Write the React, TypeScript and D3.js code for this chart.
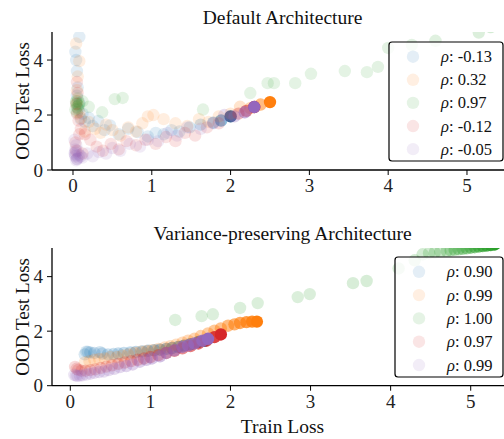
import React from "react";
import * as d3 from "d3";

// legend labels
const topRho = ["-0.13", "0.32", "0.97", "-0.12", "-0.05"];
const bottomRho = ["0.90", "0.99", "1.00", "0.97", "0.99"];
const xTicks = [0, 1, 2, 3, 4, 5];
const yTicks = [0, 2, 4];

// Default architecture, trajectories listed from first (opaque) to last point
const topBlueX = [2.0, 1.88, 1.78, 1.62, 1.48, 1.35, 1.25, 1.15, 1.05, 0.95, 0.82, 0.7, 0.58, 0.47, 0.4, 0.32, 0.25, 0.2, 0.15, 0.12, 0.1, 0.08, 0.07, 0.06, 0.05, 0.05, 0.04, 0.03, 0.08];
const topBlueY = [1.95, 1.8, 1.72, 1.65, 1.55, 1.4, 1.45, 1.3, 1.35, 1.22, 1.38, 1.5, 1.3, 1.62, 1.45, 1.78, 1.6, 1.9, 1.75, 2.05, 1.85, 2.45, 2.2, 3.0, 2.7, 3.6, 4.0, 4.3, 4.84];
const topOrangeX = [2.5, 2.38, 2.25, 2.12, 2.0, 1.85, 1.72, 1.6, 1.45, 1.3, 1.15, 1.02, 0.95, 0.88, 0.8, 0.7, 0.6, 0.5, 0.42, 0.35, 0.28, 0.2, 0.15, 0.1, 0.08, 0.06, 0.05, 0.06, 0.08, 0.04];
const topOrangeY = [2.47, 2.38, 2.25, 2.3, 2.05, 1.95, 1.75, 1.85, 1.6, 1.7, 1.85, 2.0, 1.95, 1.7, 1.4, 1.55, 1.25, 1.45, 1.65, 1.35, 1.5, 1.75, 1.4, 1.9, 2.1, 2.5, 2.9, 3.4, 3.96, 4.6];
const topGreenX = [5.9, 5.7, 5.5, 5.3, 5.15, 4.6, 4.3, 4.0, 3.87, 3.73, 3.45, 3.02, 2.82, 2.55, 2.47, 2.25, 1.65, 0.63, 0.53, 0.37, 0.2, 0.12, 0.08, 0.06, 0.05, 0.04, 0.03, 0.05, 0.07, 0.04, 0.06, 0.05];
const topGreenY = [6.0, 5.7, 5.45, 5.2, 5.0, 4.7, 4.55, 4.44, 3.75, 3.56, 3.6, 3.5, 3.16, 3.16, 3.16, 2.8, 2.2, 2.62, 2.58, 2.1, 2.3, 2.5, 2.4, 2.6, 2.3, 2.5, 2.2, 2.1, 2.35, 2.45, 2.25, 2.4];
const topRedX = [2.3, 2.2, 2.1, 2.0, 1.85, 1.7, 1.55, 1.42, 1.3, 1.18, 1.05, 0.92, 0.8, 0.68, 0.58, 0.48, 0.38, 0.3, 0.22, 0.15, 0.1, 0.07, 0.05, 0.04, 0.06, 0.05, 0.03, 0.04, 0.08, 0.12];
const topRedY = [2.29, 2.15, 2.05, 1.95, 1.7, 1.55, 1.25, 1.35, 1.05, 1.2, 0.95, 1.1, 0.9, 1.05, 0.75, 0.95, 0.7, 0.85, 1.1, 1.3, 1.5, 1.8, 2.05, 2.4, 2.8, 3.2, 1.0, 0.7, 1.3, 0.6];
const topPurpleX = [2.3, 2.18, 2.05, 1.92, 1.78, 1.62, 1.45, 1.32, 1.2, 1.08, 0.95, 0.85, 0.72, 0.6, 0.5, 0.42, 0.33, 0.25, 0.18, 0.12, 0.08, 0.05, 0.03, 0.02, 0.03, 0.04, 0.02, 0.05, 0.03, 0.06, 0.1, 0.04, 0.07, 0.03];
const topPurpleY = [2.29, 2.1, 1.95, 2.0, 1.7, 1.5, 1.55, 1.25, 1.35, 1.05, 1.1, 0.85, 0.95, 0.7, 0.8, 0.6, 0.65, 0.5, 0.6, 0.45, 0.55, 0.4, 0.5, 0.6, 0.75, 0.9, 1.1, 0.4, 0.55, 0.7, 0.5, 0.35, 0.45, 0.65];

// Variance-preserving architecture
const botBlueX = [1.68, 1.6, 1.5, 1.42, 1.35, 1.27, 1.2, 1.12, 1.05, 0.97, 0.9, 0.82, 0.75, 0.67, 0.6, 0.54, 0.47, 0.4, 0.37, 0.3, 0.25, 0.22, 0.2, 0.18];
const botBlueY = [1.65, 1.6, 1.52, 1.47, 1.42, 1.38, 1.35, 1.32, 1.3, 1.28, 1.26, 1.24, 1.22, 1.2, 1.18, 1.16, 1.15, 1.18, 1.23, 1.2, 1.22, 1.24, 1.25, 1.15];
const botOrangeX = [2.33, 2.27, 2.2, 2.12, 2.05, 1.97, 1.88, 1.8, 1.72, 1.63, 1.55, 1.47, 1.4, 1.32, 1.25, 1.18, 1.1, 1.02, 0.95, 0.88, 0.8, 0.72, 0.65, 0.58, 0.5, 0.43, 0.36, 0.3, 0.24, 0.18];
const botOrangeY = [2.35, 2.35, 2.33, 2.3, 2.25, 2.2, 2.1, 2.02, 1.92, 1.82, 1.72, 1.65, 1.58, 1.5, 1.45, 1.4, 1.35, 1.3, 1.27, 1.25, 1.2, 1.15, 1.1, 1.05, 1.05, 1.0, 0.98, 0.95, 0.9, 0.85];
const botGreenX = [5.3, 5.25, 5.2, 5.15, 5.1, 5.05, 5.0, 4.95, 4.9, 4.85, 4.8, 4.75, 4.7, 4.62, 4.55, 4.48, 4.4, 4.3, 4.1, 3.7, 3.53, 2.99, 2.84, 2.34, 2.12, 1.78, 1.64, 1.31];
const botGreenY = [5.18, 5.16, 5.14, 5.12, 5.1, 5.08, 5.06, 5.04, 5.02, 5.0, 4.98, 4.96, 4.94, 4.91, 4.88, 4.86, 4.82, 4.6, 4.3, 3.84, 3.76, 3.36, 3.25, 3.03, 2.85, 2.62, 2.55, 2.41];
const botRedX = [1.88, 1.8, 1.7, 1.6, 1.5, 1.4, 1.3, 1.2, 1.1, 1.0, 0.92, 0.84, 0.76, 0.68, 0.6, 0.52, 0.45, 0.38, 0.31, 0.25, 0.19, 0.14, 0.1, 0.08, 0.06];
const botRedY = [1.88, 1.78, 1.65, 1.55, 1.45, 1.37, 1.28, 1.2, 1.12, 1.05, 1.0, 0.95, 0.9, 0.85, 0.8, 0.75, 0.7, 0.65, 0.6, 0.57, 0.55, 0.55, 0.58, 0.62, 0.69];
const botPurpleX = [1.72, 1.65, 1.55, 1.47, 1.4, 1.3, 1.2, 1.12, 1.02, 0.95, 0.87, 0.78, 0.7, 0.62, 0.55, 0.48, 0.42, 0.36, 0.3, 0.25, 0.2, 0.15, 0.12, 0.09, 0.07, 0.05];
const botPurpleY = [1.72, 1.65, 1.55, 1.48, 1.42, 1.3, 1.2, 1.08, 1.0, 0.95, 0.88, 0.78, 0.72, 0.68, 0.62, 0.57, 0.52, 0.5, 0.47, 0.44, 0.41, 0.38, 0.37, 0.36, 0.37, 0.4];

const colors = d3.schemeCategory10.slice(0, 5);
const FONT = "'Liberation Serif', 'Times New Roman', serif";

type Panel = {
  id: string;
  title: string;
  rho: string[];
  xs: number[][];
  ys: number[][];
  left: number; right: number; top: number; bottom: number;
  xDomain: [number, number];
  yMax: number;
  decay: number;
  floor: number;
  legend: { x: number; y: number; w: number; h: number };
  xlabel?: string;
};

const panels: Panel[] = [
  {
    id: "top",
    title: "Default Architecture",
    rho: topRho,
    xs: [topBlueX, topOrangeX, topGreenX, topRedX, topPurpleX],
    ys: [topBlueY, topOrangeY, topGreenY, topRedY, topPurpleY],
    left: 52, right: 513, top: 32, bottom: 170,
    xDomain: [-0.2665, 5.584],
    yMax: 5.02,
    decay: 0.45,
    floor: 0.13,
    legend: { x: 389, y: 42, w: 114, h: 119 },
  },
  {
    id: "bot",
    title: "Variance-preserving Architecture",
    rho: bottomRho,
    xs: [botBlueX, botOrangeX, botGreenX, botRedX, botPurpleX],
    ys: [botBlueY, botOrangeY, botGreenY, botRedY, botPurpleY],
    left: 52, right: 513, top: 248, bottom: 385.7,
    xDomain: [-0.2285, 5.528],
    yMax: 5.05,
    decay: 0.85,
    floor: 0.15,
    legend: { x: 395, y: 257, w: 108, h: 120 },
    xlabel: "Train Loss",
  },
];

const PanelView = ({ p }: { p: Panel }) => {
  const x = d3.scaleLinear().domain(p.xDomain).range([p.left, p.right]);
  const y = d3.scaleLinear().domain([0, p.yMax]).range([p.bottom, p.top]);
  const midX = (p.left + p.right) / 2;
  const rowH = p.legend.h / 5.15;

  return (
    <g>
      <defs>
        <clipPath id={`clip-${p.id}`}>
          <rect x={p.left} y={p.top} width={p.right - p.left} height={p.bottom - p.top} />
        </clipPath>
      </defs>
      <g clipPath={`url(#clip-${p.id})`}>
        {p.xs.map((xs, s) =>
          xs.map((v, i) => (
            <circle
              key={`${s}-${i}`}
              cx={x(v)}
              cy={y(p.ys[s][i])}
              r={6.2}
              fill={colors[s]}
              fillOpacity={p.floor + (1 - p.floor) * Math.pow(p.decay, i)}
            />
          ))
        )}
      </g>
      {/* spines */}
      <line x1={p.left} x2={p.left} y1={p.top} y2={p.bottom} stroke="#000" strokeWidth={1.3} />
      <line x1={p.left} x2={p.right} y1={p.bottom} y2={p.bottom} stroke="#000" strokeWidth={1.3} />
      {xTicks.map((t) => (
        <g key={t}>
          <line x1={x(t)} x2={x(t)} y1={p.bottom} y2={p.bottom + 5} stroke="#000" strokeWidth={1} />
          <text x={x(t)} y={p.bottom + 22} textAnchor="middle" fontSize={19} fontFamily={FONT} fill="#222">
            {t}
          </text>
        </g>
      ))}
      {yTicks.map((t) => (
        <g key={t}>
          <line x1={p.left - 5} x2={p.left} y1={y(t)} y2={y(t)} stroke="#000" strokeWidth={1} />
          <text x={p.left - 9} y={y(t) + 6.5} textAnchor="end" fontSize={19} fontFamily={FONT} fill="#222">
            {t}
          </text>
        </g>
      ))}
      <text x={midX} y={p.top - 8} textAnchor="middle" fontSize={19.5} fontFamily={FONT} fill="#111">
        {p.title}
      </text>
      <text
        transform={`translate(${22},${(p.top + p.bottom) / 2}) rotate(-90)`}
        textAnchor="middle"
        dominantBaseline="central"
        fontSize={19}
        fontFamily={FONT}
        fill="#111"
      >
        OOD Test Loss
      </text>
      {p.xlabel && (
        <text x={midX} y={p.bottom + 47} textAnchor="middle" fontSize={19.5} fontFamily={FONT} fill="#111">
          {p.xlabel}
        </text>
      )}
      {/* legend */}
      <rect
        x={p.legend.x}
        y={p.legend.y}
        width={p.legend.w}
        height={p.legend.h}
        rx={3}
        fill="#fff"
        fillOpacity={0.8}
        stroke="#000"
        strokeWidth={1.2}
      />
      {p.rho.map((r, i) => {
        const cy = p.legend.y + rowH * (0.55 + i) + 2;
        return (
          <g key={i}>
            <circle cx={p.legend.x + 24} cy={cy} r={6.2} fill={colors[i]} fillOpacity={0.12} />
            <text x={p.legend.x + 52} y={cy + 5.5} fontSize={16.5} fontFamily={FONT} fill="#111">
              <tspan fontStyle="italic">ρ</tspan>: {r}
            </text>
          </g>
        );
      })}
    </g>
  );
};

export default function App() {
  return (
    <svg
      width={504}
      height={439}
      style={{ position: "absolute", left: 0, top: 0, background: "#fff" }}
    >
      {panels.map((p) => (
        <PanelView key={p.id} p={p} />
      ))}
    </svg>
  );
}
